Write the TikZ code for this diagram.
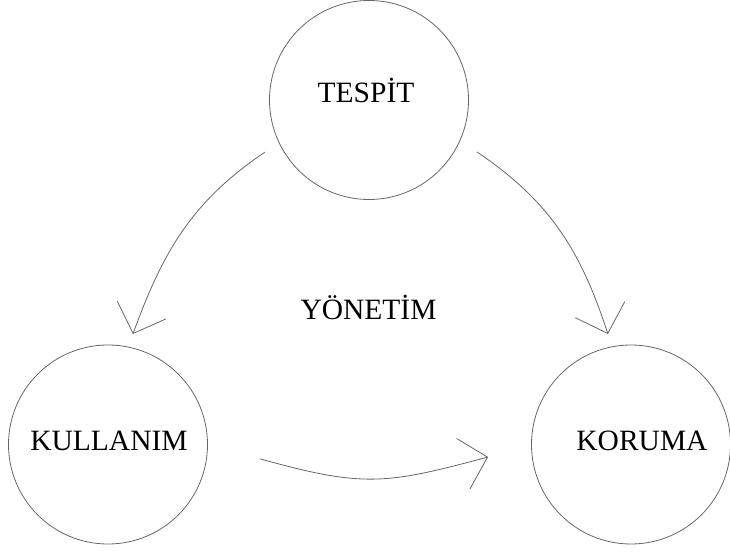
\documentclass[tikz,border=0pt]{standalone}
\usepackage{fontspec}
\setmainfont{Liberation Serif}
\usetikzlibrary{arrows.meta,calc}
\begin{document}
\begin{tikzpicture}[x=1pt,y=1pt,
  ring/.style={draw=black!60,line width=0.8pt,circle,inner sep=0pt,minimum size=199pt},
  lbl/.style={anchor=base,inner sep=0pt,font=\fontsize{29.5}{35}\selectfont},
  conn/.style={draw=black!60,line width=0.8pt,-{Straight Barb[length=25pt,width=52pt]}}]
\useasboundingbox (0,0) rectangle (730,552);
\node[ring] (top) at (369,452) {};
\node[ring] (left) at (108,107.5) {};
\node[ring] (right) at (631,107.5) {};
\node[lbl] (ttop) at (366,449) {TESPİT};
\node[lbl] (tleft) at (109,102) {KULLANIM};
\node[lbl] (tright) at (642,102) {KORUMA};
\node[lbl] (tmid) at (368.5,233) {YÖNETİM};
\coordinate (c1s) at ($(top)+(206.6:116.3)$);
\coordinate (c1e) at ($(left)+(77.3:113.3)$);
\coordinate (c2s) at ($(top)+(-25.7:119.9)$);
\coordinate (c2e) at ($(right)+(101.8:112.9)$);
\coordinate (c3s) at ($(left)+(-5.4:152.7)$);
\coordinate (c3e) at ($(right)+(185:143.5)$);
\draw[conn] (c1s) to[out=214,in=70] (c1e);
\draw[conn] (c2s) to[out=326,in=108] (c2e);
\draw[conn] (c3s) to[out=-15.5,in=195,looseness=1.2] (c3e);
\end{tikzpicture}
\end{document}
